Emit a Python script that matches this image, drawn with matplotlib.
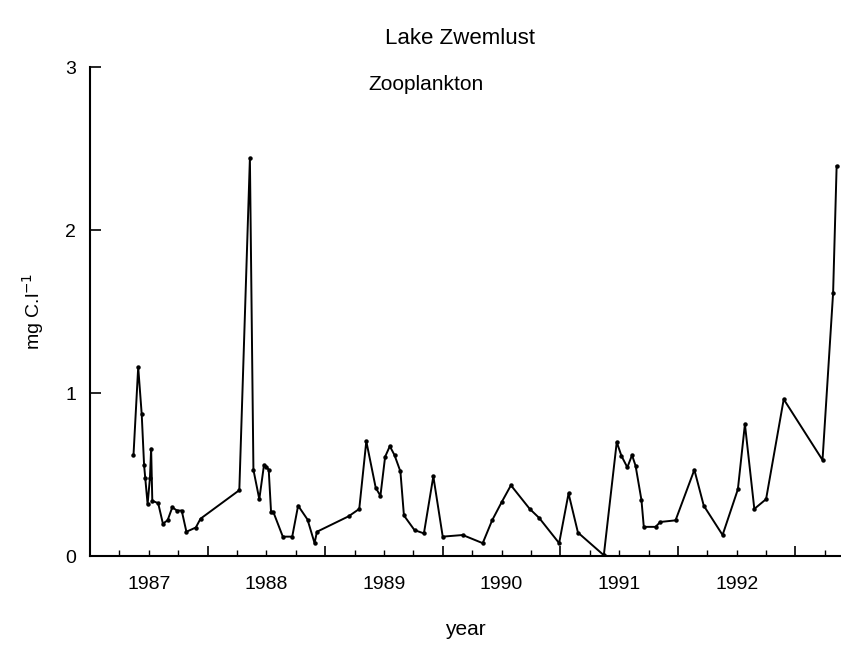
import matplotlib
matplotlib.use("Agg")
from matplotlib import pyplot as plt
from matplotlib.ticker import FixedLocator, FuncFormatter

plt.rcParams["font.family"] = ["Liberation Sans", "DejaVu Sans"]

# sampling dates (decimal year) and zooplankton biomass (mg C/l)
years = [1987.37, 1987.41, 1987.44, 1987.46, 1987.47, 1987.49, 1987.51, 1987.52,
         1987.53, 1987.58, 1987.62, 1987.66, 1987.70, 1987.74, 1987.78, 1987.82,
         1987.90, 1987.94, 1988.27, 1988.36, 1988.39, 1988.44, 1988.48, 1988.50,
         1988.52, 1988.54, 1988.56, 1988.64, 1988.72, 1988.77, 1988.85, 1988.91,
         1988.93, 1989.20, 1989.29, 1989.35, 1989.43, 1989.47, 1989.51, 1989.55,
         1989.59, 1989.64, 1989.67, 1989.76, 1989.84, 1989.92, 1990.00, 1990.17,
         1990.34, 1990.42, 1990.50, 1990.58, 1990.74, 1990.82, 1990.99, 1991.07,
         1991.15, 1991.37, 1991.48, 1991.52, 1991.57, 1991.61, 1991.64, 1991.69,
         1991.71, 1991.81, 1991.85, 1991.98, 1992.14, 1992.22, 1992.38, 1992.51,
         1992.57, 1992.65, 1992.75, 1992.90, 1993.23, 1993.32, 1993.35]
carbon = [0.62, 1.16, 0.87, 0.56, 0.48, 0.32, 0.48, 0.66,
          0.34, 0.325, 0.20, 0.22, 0.30, 0.28, 0.28, 0.15,
          0.176, 0.23, 0.405, 2.44, 0.53, 0.35, 0.56, 0.55,
          0.53, 0.27, 0.27, 0.12, 0.12, 0.31, 0.225, 0.08,
          0.15, 0.245, 0.29, 0.705, 0.42, 0.37, 0.61, 0.675,
          0.62, 0.52, 0.25, 0.16, 0.14, 0.49, 0.12, 0.13,
          0.08, 0.22, 0.33, 0.435, 0.29, 0.235, 0.08, 0.385,
          0.145, 0.006, 0.70, 0.615, 0.545, 0.62, 0.555, 0.345,
          0.18, 0.18, 0.21, 0.22, 0.53, 0.31, 0.13, 0.41,
          0.81, 0.29, 0.35, 0.963, 0.59, 1.615, 2.394]

year_labels = [1987, 1988, 1989, 1990, 1991, 1992]
y_ticks = [0, 1, 2, 3]

fig = plt.figure(figsize=(8.41, 6.46), dpi=100)
ax = fig.add_axes([0.107, 0.139, 0.892, 0.757])

ax.plot(years, carbon, color="black", linewidth=1.4, marker="o", markersize=2.2)

ax.set_xlim(1987.0, 1993.38)
ax.set_ylim(0, 3)

# long ticks at the start of each year, short ticks each quarter,
# year labels sit under the mid-year tick
ax.xaxis.set_major_locator(FixedLocator(list(range(1987, 1994))))
ax.xaxis.set_major_formatter(FuncFormatter(lambda v, p: ""))
quarters = [y + q for y in range(1987, 1994) for q in (0.25, 0.5, 0.75)]
ax.xaxis.set_minor_locator(FixedLocator(quarters))
ax.xaxis.set_minor_formatter(FuncFormatter(
    lambda v, p: str(int(v)) if int(v) in year_labels and abs(v - int(v) - 0.5) < 0.01 else ""))
ax.tick_params(axis="x", which="major", direction="in", length=7, width=1.2)
ax.tick_params(axis="x", which="minor", direction="in", length=4, width=1.0,
               labelsize=14, pad=14)

ax.set_yticks(y_ticks)
ax.set_yticklabels([str(v) for v in y_ticks])
ax.tick_params(axis="y", direction="in", length=8, width=1.2, labelsize=14, pad=10)

for side in ("top", "right"):
    ax.spines[side].set_visible(False)
for side in ("left", "bottom"):
    ax.spines[side].set_linewidth(1.5)

ax.set_xlabel("year", fontsize=15, labelpad=20)
ax.set_ylabel("mg C.l$^{-1}$", fontsize=14, labelpad=14)

fig.text(0.547, 0.94, "Lake Zwemlust", fontsize=16, ha="center", va="center")
ax.text(0.448, 0.965, "Zooplankton", fontsize=15, ha="center", va="center",
        transform=ax.transAxes)

fig.savefig("out.png", dpi=100)
